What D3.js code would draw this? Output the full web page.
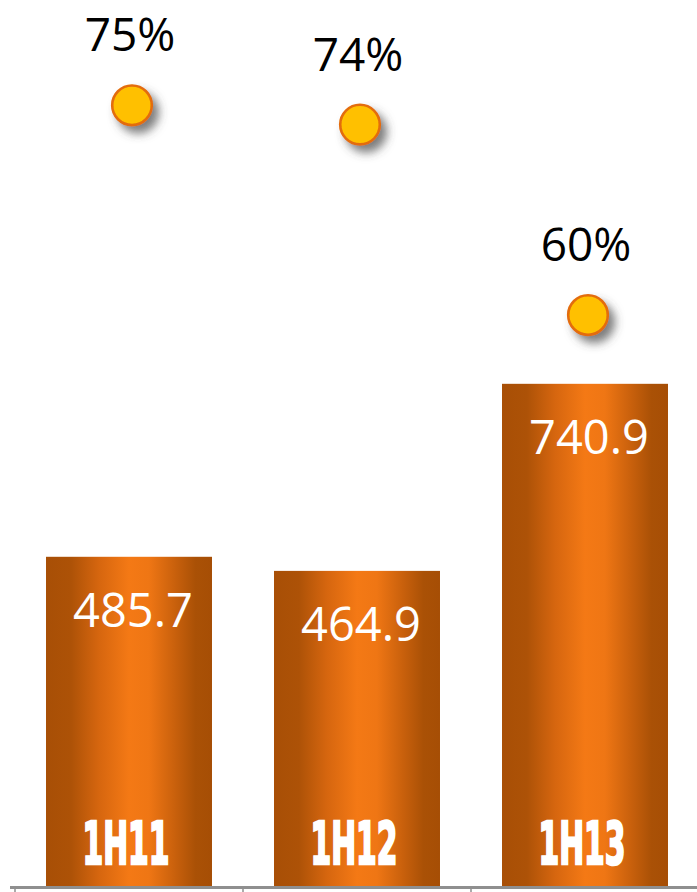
<!DOCTYPE html>
<html>
<head>
<meta charset="utf-8">
<script src="https://cdn.jsdelivr.net/npm/d3@7/dist/d3.min.js"></script>
<style>
  html, body { margin: 0; padding: 0; background: #ffffff; }
  svg { display: block; }
</style>
</head>
<body>
<svg id="chart" width="697" height="892"></svg>
<script>
// ---- data ----
const categories = ["1H11", "1H12", "1H13"];
const barValues = [485.7, 464.9, 740.9];
const pctValues = [75.4, 74.0, 60.2];

// ---- layout ----
const W = 697, H = 892;
const baseY = 886;
const svg = d3.select("#chart");

const x = d3.scaleBand()
  .domain(categories)
  .range([15, 699])
  .paddingInner(0.272)
  .paddingOuter(0.136);

const y = d3.scaleLinear().domain([0, 1000]).range([baseY, baseY - 677.8]);
const yPct = d3.scaleLinear().domain([40, 80]).range([593.8, 41.8]);

const defs = svg.append("defs");
const grad = defs.append("linearGradient")
  .attr("id", "barGrad").attr("x1", "0%").attr("x2", "100%").attr("y1", "0%").attr("y2", "0%");
[
  [0, "#a84f06"], [0.15, "#ad5207"], [0.32, "#d6660f"], [0.5, "#f47915"],
  [0.62, "#ef7614"], [0.78, "#c8600c"], [0.9, "#aa5106"], [1, "#a64e05"]
].forEach(([o, c]) => grad.append("stop").attr("offset", o).attr("stop-color", c));

const shadow = defs.append("filter").attr("id", "dotShadow")
  .attr("x", "-60%").attr("y", "-60%").attr("width", "240%").attr("height", "240%");
shadow.append("feDropShadow")
  .attr("dx", 6).attr("dy", 7).attr("stdDeviation", 5)
  .attr("flood-color", "#444").attr("flood-opacity", 0.7);

const data = categories.map((c, i) => ({ c, v: barValues[i], p: pctValues[i] }));

// bars
svg.append("g").selectAll("rect").data(data).join("rect")
  .attr("x", d => x(d.c))
  .attr("y", d => y(d.v))
  .attr("width", x.bandwidth())
  .attr("height", d => baseY - y(d.v))
  .attr("fill", "url(#barGrad)");

// bar value labels
svg.append("g").selectAll("text").data(data).join("text")
  .attr("x", d => x(d.c) + x.bandwidth() / 2 + 4)
  .attr("y", d => y(d.v) + 70)
  .attr("text-anchor", "middle")
  .attr("font-family", "'Open Sans', 'Noto Sans', sans-serif")
  .attr("font-size", 47)
  .attr("fill", "#ffffff")
  .text(d => d3.format(".1f")(d.v));

// category labels inside bars
svg.append("g").selectAll("text").data(data).join("text")
  .attr("x", d => x(d.c) + x.bandwidth() / 2 - 3)
  .attr("y", 864)
  .attr("text-anchor", "middle")
  .attr("font-family", "'Liberation Sans Narrow', 'DejaVu Sans Condensed', 'Roboto', sans-serif")
  .attr("font-weight", "bold")
  .attr("font-size", 58)
  .attr("textLength", 87)
  .attr("lengthAdjust", "spacingAndGlyphs")
  .attr("fill", "#ffffff")
  .attr("stroke", "#ffffff")
  .attr("stroke-width", 2.4)
  .attr("stroke-linejoin", "miter")
  .text(d => d.c);

// axis
const axisG = svg.append("g");
axisG.append("line")
  .attr("x1", 10).attr("x2", W).attr("y1", baseY + 1.5).attr("y2", baseY + 1.5)
  .attr("stroke", "#8f8f8f").attr("stroke-width", 3);
const tickPos = categories.map(c => x(c) - x.step() * x.paddingInner() / 2);
axisG.selectAll("line.tick").data(tickPos).join("line")
  .attr("class", "tick")
  .attr("x1", d => d).attr("x2", d => d)
  .attr("y1", baseY + 3).attr("y2", H)
  .attr("stroke", "#8f8f8f").attr("stroke-width", 1.5);

// percentage dots
svg.append("g").selectAll("circle").data(data).join("circle")
  .attr("cx", d => x(d.c) + x.bandwidth() / 2 + 3)
  .attr("cy", d => yPct(d.p))
  .attr("r", 19.8)
  .attr("fill", "#ffc000")
  .attr("stroke", "#e36c0a")
  .attr("stroke-width", 2.6)
  .attr("filter", "url(#dotShadow)");

// percentage labels
svg.append("g").selectAll("text").data(data).join("text")
  .attr("x", d => x(d.c) + x.bandwidth() / 2 + 1)
  .attr("y", d => yPct(d.p) - 54)
  .attr("text-anchor", "middle")
  .attr("font-family", "'Open Sans', 'Noto Sans', sans-serif")
  .attr("font-size", 46)
  .attr("fill", "#000000")
  .text(d => d3.format(".0f")(d.p) + "%");
</script>
</body>
</html>
